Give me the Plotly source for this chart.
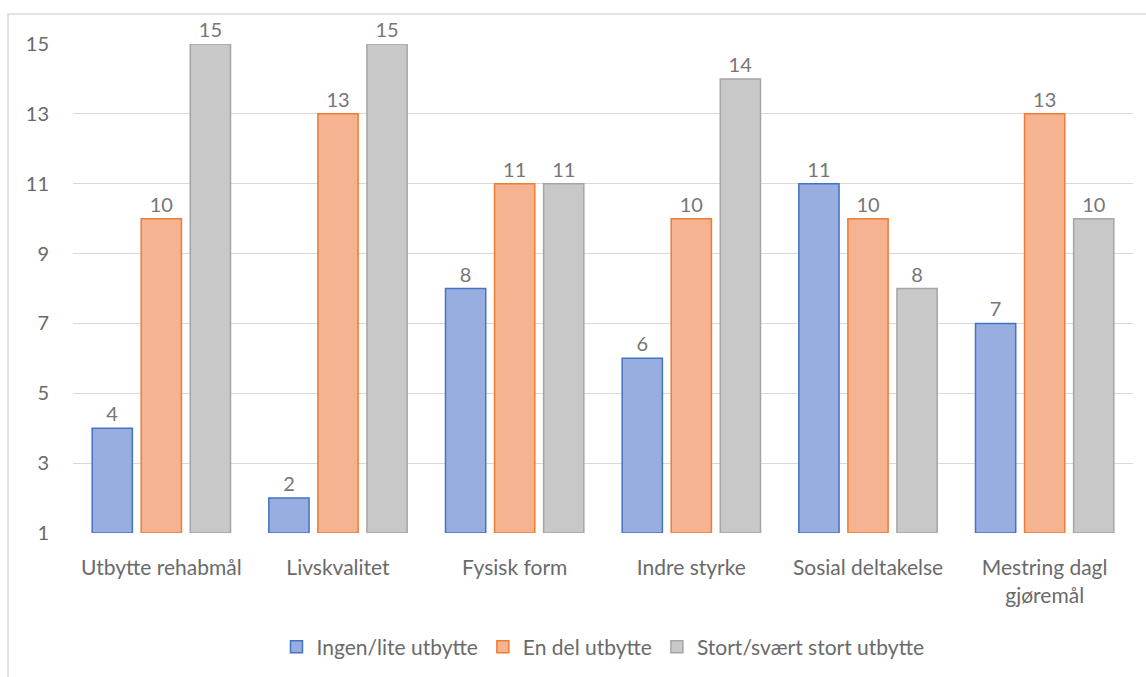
import plotly.graph_objects as go

categories = ["Utbytte rehabmål", "Livskvalitet", "Fysisk form", "Indre styrke",
              "Sosial deltakelse", "Mestring dagl<br>gjøremål"]
ingen = [4, 2, 8, 6, 11, 7]
en_del = [10, 13, 11, 10, 10, 13]
stort = [15, 15, 11, 14, 8, 10]
y_ticks = [1, 3, 5, 7, 9, 11, 13, 15]

series = [
    ("Ingen/lite utbytte", ingen, "#98aee0", "#4472c4"),
    ("En del utbytte", en_del, "#f6b392", "#ed7d31"),
    ("Stort/svært stort utbytte", stort, "#c8c8c8", "#a5a5a5"),
]

font_family = "Lato, 'Open Sans', sans-serif"
text_color = "#6a6a6a"

fig = go.Figure()
for name, vals, fill, edge in series:
    fig.add_trace(go.Bar(
        name=name,
        x=categories,
        y=[v - 1 for v in vals],
        base=1,
        marker=dict(color=fill, line=dict(color=edge, width=1.5)),
        text=[str(v) for v in vals],
        textposition="outside",
        textfont=dict(family=font_family, size=20, color="#767676"),
        cliponaxis=False,
        hovertemplate="%{x}: %{text}<extra>" + name + "</extra>",
    ))

fig.update_layout(
    width=1146, height=677,
    margin=dict(l=73, r=13, t=44, b=144),
    paper_bgcolor="white", plot_bgcolor="white",
    barmode="group", bargap=0.167, bargroupgap=0.18,
    font=dict(family=font_family, size=21, color=text_color),
    showlegend=True,
    legend=dict(orientation="h", x=0.5, xanchor="center",
                yref="container", y=0.044, yanchor="middle",
                font=dict(size=21, color=text_color), itemwidth=30,
                traceorder="normal"),
    xaxis=dict(showgrid=False, showline=False, ticks="outside", automargin=False,
               tickcolor="rgba(0,0,0,0)", ticklen=16, tickfont=dict(size=21),
               tickangle=0),
    yaxis=dict(range=[1, 15], tickvals=y_ticks, showgrid=True, gridcolor="#d9d9d9",
               gridwidth=1.3, zeroline=False, showline=False, ticks="outside",
               automargin=False,
               tickcolor="rgba(0,0,0,0)", ticklen=19, tickfont=dict(size=20)),
    # chart-area frame; its right and bottom edges run past the page
    shapes=[dict(type="rect", xref="paper", yref="paper",
                 x0=-0.0613, x1=1.2, y0=-0.5, y1=1.0613,
                 line=dict(color="#d9d9d9", width=1.5), fillcolor="rgba(0,0,0,0)",
                 layer="below")],
)

fig.write_html("out.html")
